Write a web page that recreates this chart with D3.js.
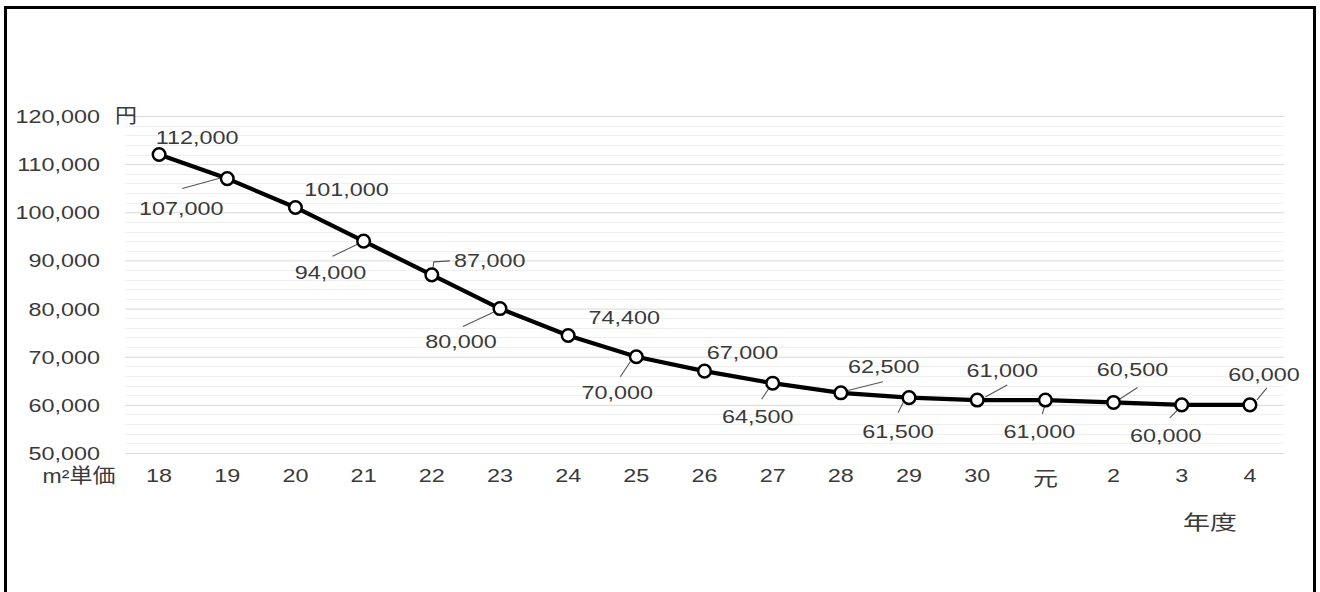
<!DOCTYPE html>
<html>
<head>
<meta charset="utf-8">
<script src="https://cdn.jsdelivr.net/npm/d3@7/dist/d3.min.js"></script>
<style>
  html, body { margin: 0; padding: 0; background: #fff; }
  svg { display: block; }
  text { font-family: "Liberation Sans", "Noto Sans CJK JP", sans-serif; fill: #3a3a3a; }
</style>
</head>
<body>
<script>
// 年度別 m²単価の推移
const years = ["18", "19", "20", "21", "22", "23", "24", "25", "26", "27", "28", "29", "30", "元", "2", "3", "4"];
const prices = [112000, 107000, 101000, 94000, 87000, 80000, 74400, 70000, 67000, 64500, 62500, 61500, 61000, 61000, 60500, 60000, 60000];
const yTicks = [50000, 60000, 70000, 80000, 90000, 100000, 110000, 120000];

// label placement relative to each point: [dx, dy] of text centre, optional leader path
const labelLayout = [
  { dx: 38, dy: -17 },
  { dx: -46, dy: 30, lead: [[-45, 10], [-5, -1]] },
  { dx: 51, dy: -18 },
  { dx: -33, dy: 31, lead: [[-31, 15], [-4, 2]] },
  { dx: 58, dy: -14, lead: [[1, -5], [2, -13], [18, -14]] },
  { dx: -39, dy: 33, lead: [[-37, 18], [-5, 3]] },
  { dx: 56, dy: -18 },
  { dx: -19, dy: 36, lead: [[-16, 20], [-6, 5]] },
  { dx: 38, dy: -19 },
  { dx: -15, dy: 33, lead: [[-11, 16], [-3, 4]] },
  { dx: 43, dy: -26, lead: [[2, -1], [42, -11]] },
  { dx: -11, dy: 34, lead: [[-11, 15], [-6, 5]] },
  { dx: 25, dy: -30, lead: [[8, -3], [30, -15]] },
  { dx: -6, dy: 31, lead: [[-3, 14], [0, 3]] },
  { dx: 19, dy: -33, lead: [[4, -2], [24, -15]] },
  { dx: -16, dy: 31, lead: [[-12, 13], [-2, 3]] },
  { dx: 14, dy: -30, lead: [[7, -5], [17, -17]] }
];

const W = 1320, H = 592;
const SX = 1.3;           // horizontal stretch of all lettering
const FS = 18;

const svg = d3.select("body").append("svg").attr("width", W).attr("height", H);

// frame (open at the bottom)
svg.append("path")
  .attr("d", `M5.5,${H} L5.5,7.5 L1314.5,7.5 L1314.5,${H}`)
  .attr("fill", "none").attr("stroke", "#000").attr("stroke-width", 3);

const x = d3.scaleBand().domain(years).range([125, 1284]).padding(0);
const y = d3.scaleLinear().domain([50000, 120000]).range([453, 116]);
const cx = d => x(d) + x.bandwidth() / 2;

function label(g, px, py, str, anchor, sx, fs) {
  return g.append("text")
    .attr("transform", `translate(${px},${py}) scale(${sx || SX},1)`)
    .attr("text-anchor", anchor || "middle")
    .attr("dominant-baseline", "central")
    .attr("font-size", fs || FS)
    .text(str);
}

// minor grid every 2,000
const minor = d3.range(52000, 120000, 2000).filter(v => v % 10000 !== 0);
svg.append("g").selectAll("line").data(minor).join("line")
  .attr("x1", 125).attr("x2", 1284)
  .attr("y1", d => Math.round(y(d)) + 0.5).attr("y2", d => Math.round(y(d)) + 0.5)
  .attr("stroke", "#efefef").attr("stroke-width", 1);

// major grid + y axis labels
const yAxis = d3.axisLeft(y).tickValues(yTicks).tickSize(-(1284 - 125)).tickFormat(d3.format(","));
const ga = svg.append("g").attr("transform", "translate(125,0)").call(yAxis);
ga.select(".domain").remove();
ga.selectAll(".tick line").attr("stroke", "#d9d9d9");
ga.selectAll(".tick text").remove();
ga.selectAll(".tick").each(function (d) {
  label(d3.select(this), -25, 0, d3.format(",")(d), "end");
});

label(svg, 126, 116, "円", "middle", 1.1, 20);

// x axis labels
const gx = svg.append("g");
years.forEach(d => {
  if (d === "元") label(gx, cx(d), 479, d, "middle", 1.25, 20);
  else label(gx, cx(d), 476, d);
});
label(svg, 79, 476, "m²単価", "middle", 1.15, 20);
label(svg, 1210, 523, "年度", "middle", 1.35, 20);

// the price line
const pts = years.map((d, i) => [cx(d), y(prices[i])]);
svg.append("path")
  .attr("d", d3.line()(pts))
  .attr("fill", "none").attr("stroke", "#000").attr("stroke-width", 4.2)
  .attr("stroke-linejoin", "round");

// leader lines
const gl = svg.append("g");
pts.forEach((p, i) => {
  const L = labelLayout[i];
  if (!L.lead) return;
  gl.append("path")
    .attr("d", d3.line()(L.lead.map(q => [p[0] + q[0], p[1] + q[1]])))
    .attr("fill", "none").attr("stroke", "#555").attr("stroke-width", 1.1);
});

// markers
svg.append("g").selectAll("circle").data(pts).join("circle")
  .attr("cx", d => d[0]).attr("cy", d => d[1]).attr("r", 6.3)
  .attr("fill", "#fff").attr("stroke", "#000").attr("stroke-width", 2.5);

// value labels
const gv = svg.append("g");
pts.forEach((p, i) => {
  const L = labelLayout[i];
  label(gv, p[0] + L.dx, p[1] + L.dy, d3.format(",")(prices[i]));
});
</script>
</body>
</html>
